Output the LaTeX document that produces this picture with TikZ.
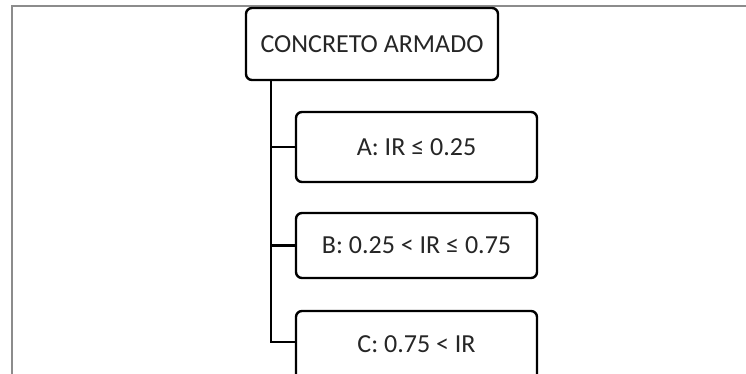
\documentclass[tikz,border=0pt]{standalone}
\usepackage{fontspec}
\setmainfont{Carlito}
\begin{document}
\begin{tikzpicture}[x=1pt,y=-1pt,
  box/.style={draw=black, line width=2.4pt, rounded corners=6pt, fill=white,
    inner sep=0pt, font=\fontsize{26}{30}\selectfont, text=black!85},
  link/.style={draw=black, line width=2.4pt},
  frameline/.style={draw=black!45, line width=1.6pt}]
  \useasboundingbox (0,0) rectangle (746,374);
  \begin{scope}
    \clip (0,0) rectangle (746,374);
    % page frame
    \draw[frameline] (12,374) -- (12,6) -- (746,6);
    % root and category boxes
    \node[box, minimum width=252pt, minimum height=72pt] (root) at (372,44) {CONCRETO ARMADO};
    \node[box, minimum width=241pt, minimum height=70pt] (a) at (416.5,147) {A: IR ≤ 0.25};
    \node[box, minimum width=241pt, minimum height=65pt] (b) at (416.5,245.5) {B: 0.25 < IR ≤ 0.75};
    \node[box, minimum width=241pt, minimum height=70pt] (c) at (416.5,346) {\raisebox{4pt}{C: 0.75 < IR}};
    % tree connectors
    \coordinate (trunk) at (271,80);
    \draw[link] (trunk) |- (a.west);
    \draw[link] (trunk) |- (b.west);
    \draw[link] (trunk) |- ([yshift=4pt]c.west);
  \end{scope}
\end{tikzpicture}
\end{document}
